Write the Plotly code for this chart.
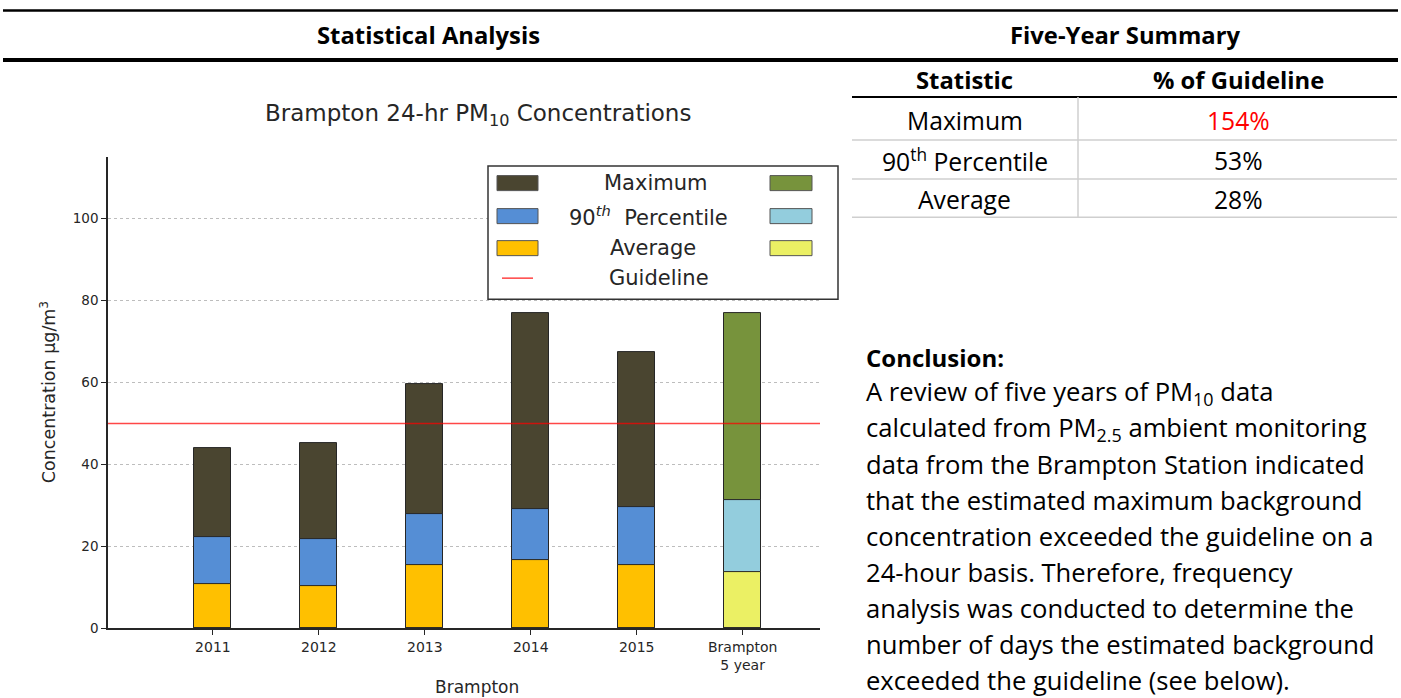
import plotly.graph_objects as go

# ---------------- data ----------------
categories = ['2011', '2012', '2013', '2014', '2015', 'Brampton<br>5 year']
maximum = [44.1, 45.1, 59.6, 76.9, 67.3, 76.9]
p90 = [22.3, 21.8, 27.8, 29.0, 29.5, 31.4]
average = [10.9, 10.4, 15.5, 16.6, 15.5, 13.8]
guideline = 50
y_ticks = [0, 20, 40, 60, 80, 100]

table_stats = ['Maximum', '90<sup>th</sup> Percentile', 'Average']
table_pct = ['154%', '53%', '28%']
table_pct_colors = ['#ff0000', '#000000', '#000000']

conclusion_lines = [
    'A review of five years of PM<sub>10</sub> data',
    'calculated from PM<sub>2.5</sub> ambient monitoring',
    'data from the Brampton Station indicated',
    'that the estimated maximum background',
    'concentration exceeded the guideline on a',
    '24-hour basis. Therefore, frequency',
    'analysis was conducted to determine the',
    'number of days the estimated background',
    'exceeded the guideline (see below).',
]

legend_labels = ['Maximum', '90<sup><i>th</i></sup>  Percentile', 'Average', 'Guideline']

# ---------------- styles ----------------
W, H = 1401, 698
H_EFF = 689.6  # vertical mapping used for paper coordinates
max_colors = ['#4a4530'] * 5 + ['#77933c']
p90_colors = ['#558ed5'] * 5 + ['#93cddd']
avg_colors = ['#ffc000'] * 5 + ['#ebf064']
edge = '#262626'
chart_font = 'DejaVu Sans'
doc_font = 'Open Sans'


def px(x):
    return x / W


def py(y):
    return 1 - y / H_EFF


xpos = list(range(len(categories)))

fig = go.Figure()
for vals, cols in [(maximum, max_colors), (p90, p90_colors), (average, avg_colors)]:
    fig.add_trace(go.Bar(
        x=xpos, y=vals, width=0.35,
        marker=dict(color=cols, line=dict(color=edge, width=1)),
        showlegend=False, hoverinfo='skip'))

fig.add_hline(y=guideline, line=dict(color='rgba(255,0,0,0.72)', width=1.6), layer='above')

fig.update_layout(
    width=W, height=H,
    margin=dict(l=0, r=0, t=0, b=0),
    paper_bgcolor='white', plot_bgcolor='white',
    barmode='overlay', bargap=0,
    showlegend=False,
    xaxis=dict(
        domain=[px(108), px(820)], range=[-0.99, 5.73],
        tickvals=xpos, ticktext=categories,
        showline=True, linecolor=edge, linewidth=1.5,
        ticks='outside', ticklen=5, tickcolor=edge, tickwidth=1,
        showgrid=False, zeroline=False,
        tickfont=dict(family=chart_font, size=14, color='#262626'),
    ),
    yaxis=dict(
        domain=[py(628), py(157)], range=[0, 115],
        tickvals=y_ticks,
        showline=True, linecolor=edge, linewidth=1.5,
        ticks='outside', ticklen=5, tickcolor=edge, tickwidth=1,
        showgrid=True, gridcolor='#bdbdbd', griddash='dot', gridwidth=1,
        zeroline=False,
        tickfont=dict(family=chart_font, size=13.5, color='#262626'),
    ),
)

shapes = []
ann = []


def hline(y, x0, x1, width, color='black'):
    shapes.append(dict(type='line', xref='paper', yref='paper', x0=px(x0), x1=px(x1),
                       y0=py(y), y1=py(y), line=dict(color=color, width=width)))


def text(x, y, s, size, family=doc_font, color='black', xanchor='center', angle=0):
    ann.append(dict(x=px(x), y=py(y), xref='paper', yref='paper', text=s, showarrow=False,
                    xanchor=xanchor, yanchor='middle', textangle=angle,
                    font=dict(family=family, size=size, color=color)))


# document frame lines
hline(4.8, 3, 1398, 1.6)
hline(10.5, 3, 1398, 2.6)
hline(60, 3, 1398, 4)
hline(97, 852, 1397, 2)
for yy in [140, 179, 217]:
    hline(yy, 852, 1397, 1.5, '#cfcfcf')
shapes.append(dict(type='line', xref='paper', yref='paper', x0=px(1078), x1=px(1078),
                   y0=py(97), y1=py(217), line=dict(color='#cfcfcf', width=1.5)))

# headers
text(428, 35, '<b>Statistical Analysis</b>', 23.8)
text(1125, 35, '<b>Five-Year Summary</b>', 23.8)
text(965, 80, '<b>Statistic</b>', 23.8)
text(1238, 80, '<b>% of Guideline</b>', 23.8)
for i, (s, p, c) in enumerate(zip(table_stats, table_pct, table_pct_colors)):
    yy = [120, 160, 199][i]
    text(965, yy, s, 24.7)
    text(1238, yy, p, 24.7, color=c)

# conclusion
text(864, 357, '<b>Conclusion:</b>', 24, xanchor='left')
for i, line in enumerate(conclusion_lines):
    text(864, 392 + i * 36, line, 25.6, xanchor='left')

# chart titles
text(478, 115, 'Brampton 24-hr PM<sub>10</sub> Concentrations', 23, family=chart_font, color='#262626')
text(477, 687, 'Brampton', 17, family=chart_font, color='#262626')
text(48, 392, 'Concentration µg/m<sup>3</sup>', 17.5, family=chart_font, color='#262626', angle=-90)

# legend box (drawn as layout decoration)
shapes.append(dict(type='rect', xref='paper', yref='paper', x0=px(488), x1=px(838),
                   y0=py(299), y1=py(166), line=dict(color='#333333', width=1.5),
                   fillcolor='white', layer='above'))
row_y = [183, 216, 248, 278]
label_x = [655, 648, 653, 659]
left_cols = [max_colors[0], p90_colors[0], avg_colors[0]]
right_cols = [max_colors[-1], p90_colors[-1], avg_colors[-1]]
for i in range(3):
    for (x0, x1, col) in [(497, 538, left_cols[i]), (770, 812, right_cols[i])]:
        shapes.append(dict(type='rect', xref='paper', yref='paper', x0=px(x0), x1=px(x1),
                           y0=py(row_y[i] + 7.5), y1=py(row_y[i] - 7.5),
                           line=dict(color='#555555', width=1), fillcolor=col, layer='above'))
shapes.append(dict(type='line', xref='paper', yref='paper', x0=px(502), x1=px(533),
                   y0=py(row_y[3]), y1=py(row_y[3]),
                   line=dict(color='rgba(255,60,60,0.9)', width=1.6), layer='above'))
for i, lab in enumerate(legend_labels):
    text(label_x[i], row_y[i], lab, 21, family=chart_font, color='#262626')

fig.update_layout(shapes=shapes, annotations=ann)

fig.write_html(
    'out.html',
    config={'displayModeBar': False},
    div_id='plot',
    post_script=(
        "document.documentElement.style.margin='0px';"
        "document.body.style.margin='0px';"
        "document.body.style.overflow='hidden';"
        "var d=document.getElementById('plot');"
        "d.style.position='fixed';d.style.top='0px';d.style.left='0px';"
    ),
)
